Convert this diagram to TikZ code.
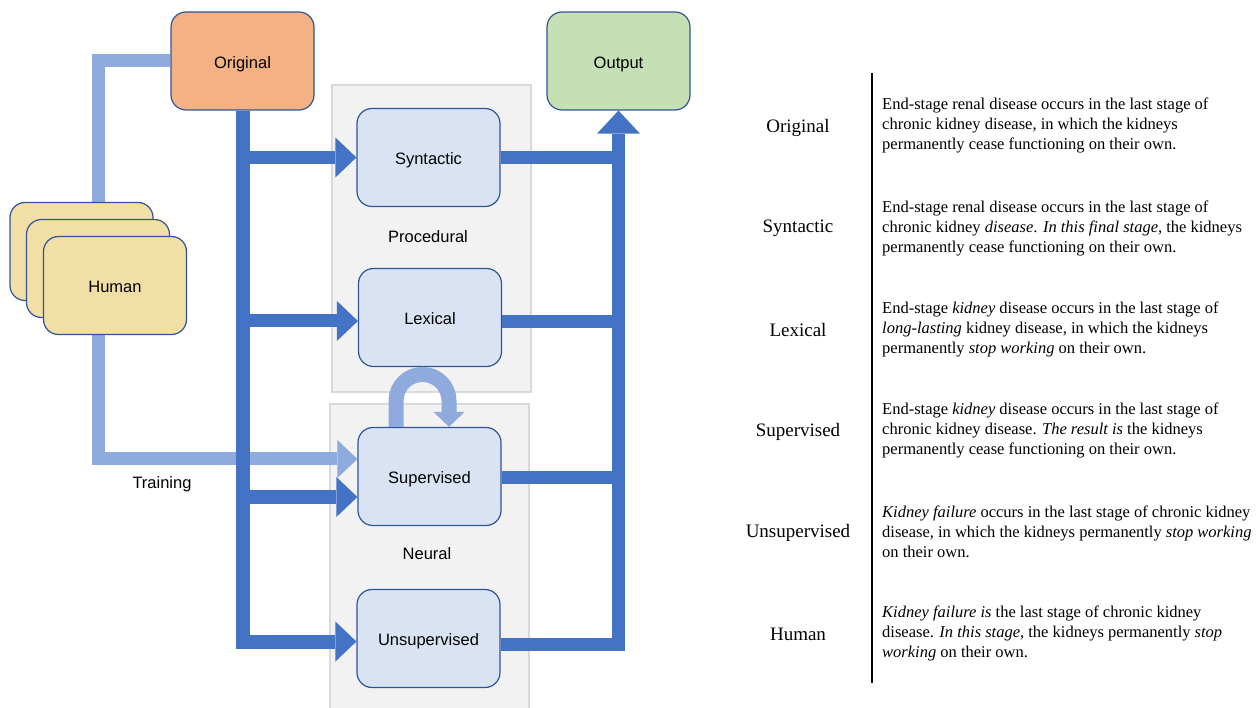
\documentclass[tikz,border=0pt]{standalone}
\usepackage{fontspec}
\setmainfont{Liberation Serif}
\setsansfont{Liberation Sans}
\usetikzlibrary{arrows.meta,calc}
\definecolor{darkb}{HTML}{4472C4}
\definecolor{lightb}{HTML}{8FAADC}
\definecolor{edgeb}{HTML}{2F5597}
\definecolor{origf}{HTML}{F4B183}
\definecolor{outg}{HTML}{C5E0B4}
\definecolor{boxb}{HTML}{DAE3F3}
\definecolor{humy}{HTML}{F2DFA6}
\definecolor{grpf}{HTML}{F2F2F2}
\definecolor{grpd}{HTML}{D9D9D9}
\tikzset{
  box/.style={draw=edgeb, line width=1.2pt, rounded corners=15pt, minimum width=143pt, minimum height=98pt, inner sep=0pt, text height=14.8pt, text depth=0pt, font=\sffamily\fontsize{16.5}{20}\selectfont},
  grp/.style={draw=grpd, fill=grpf, line width=1.5pt, inner sep=0pt},
  stxt/.style={font=\sffamily\fontsize{16.5}{20}\selectfont, inner sep=0pt, text height=14.8pt, text depth=0pt},
  darkline/.style={draw=darkb, line width=13pt},
  lightline/.style={draw=lightb, line width=13pt},
  darrow/.style={-{Triangle[length=21pt,width=40pt,line width=0pt]}},
  larrow/.style={-{Triangle[length=20pt,width=38pt,line width=0pt]}},
  oarrow/.style={-{Triangle[length=23pt,width=43pt,line width=0pt]}},
  uarrow/.style={-{Triangle[length=15pt,width=31pt,line width=0pt]}},
  para/.style={anchor=west, align=left, inner sep=0pt, font=\fontsize{16.5}{20}\selectfont},
  lab/.style={inner sep=0pt, font=\fontsize{19}{22}\selectfont}
}
\begin{document}
\begin{tikzpicture}[x=1pt,y=-1pt]
\useasboundingbox (0,0) rectangle (1259,708);
% groups
\node[grp, minimum width=199pt, minimum height=307pt] (proc) at (431.5,238.5) {};
\node[grp, minimum width=199pt, minimum height=310pt] (neur) at (429.5,559) {};
\node[stxt] (proclab) at (428,235) {Procedural};
\node[stxt] (neurlab) at (427,552) {Neural};
% boxes
\node[box, fill=origf] (orig) at (242.5,61) {Original};
\node[box, fill=outg] (out) at (618.5,61) {Output};
\node[box, fill=boxb] (syn) at (428.5,157.5) {Syntactic};
\node[box, fill=boxb] (lex) at (430,317.5) {Lexical};
\node[box, fill=boxb] (sup) at (429.5,476.5) {Supervised};
\node[box, fill=boxb] (uns) at (428.5,638.5) {Unsupervised};
% light training path
\draw[lightline, larrow] (orig.west) -| (98,459) -- ($(sup.west)+(0,-17.5)$);
\node[stxt] (train) at (162,481) {Training};
% human stack
\node[box, fill=humy] (hum1) at (81.5,251.5) {};
\node[box, fill=humy] (hum2) at (98,268.5) {};
\node[box, fill=humy] (hum3) at (115,285.5) {Human};
% dark trunk and branches
\draw[darkline, line width=14pt, darrow] (orig.south) |- ($(uns.west)+(0,3)$);
\draw[darkline, darrow] (orig.south |- syn.west) -- (syn.west);
\draw[darkline, darrow] ($(orig.south |- lex.west)+(0,3.5)$) -- ($(lex.west)+(0,3.5)$);
\draw[darkline, darrow] ($(orig.south |- sup.west)+(0,20.5)$) -- ($(sup.west)+(0,20.5)$);
% collector
\draw[darkline] (syn.east) -- (out.south |- syn.east);
\draw[darkline] ($(lex.east)+(0,4)$) -- ($(out.south |- lex.east)+(0,4)$);
\draw[darkline] ($(sup.east)+(0,1.5)$) -- ($(out.south |- sup.east)+(0,1.5)$);
\draw[darkline, oarrow] ($(uns.east)+(0,5.5)$) -| (out.south);
% U-turn
\draw[lightline, line width=15pt, uarrow] ($(sup.north)+(-33.5,0)$) -- ++(0,-26) arc[start angle=180, end angle=360, radius=26.5] -- ($(sup.north)+(19.5,0)$);
% table
\coordinate (vt) at (872,73);
\coordinate (vb) at (872,683);
\draw[line width=1.2pt] (vt) -- (vb);
\node[lab] (l1) at (798,127.5) {Original};
\node[lab] (l2) at (798,228.5) {Syntactic};
\node[lab] (l3) at (798,330) {Lexical};
\node[lab] (l4) at (798,431.5) {Supervised};
\node[lab] (l5) at (798,533) {Unsupervised};
\node[lab] (l6) at (798,634) {Human};
\node[para] (p1) at (882,125.5) {End-stage renal disease occurs in the last stage of\\chronic kidney disease, in which the kidneys\\permanently cease functioning on their own.};
\node[para] (p2) at (882,228.5) {End-stage renal disease occurs in the last stage of\\chronic kidney \textit{disease}. \textit{In this final stage,} the kidneys\\permanently cease functioning on their own.};
\node[para] (p3) at (882,329.5) {End-stage \textit{kidney} disease occurs in the last stage of\\\textit{long-lasting} kidney disease, in which the kidneys\\permanently \textit{stop working} on their own.};
\node[para] (p4) at (882,430.5) {End-stage \textit{kidney} disease occurs in the last stage of\\chronic kidney disease. \textit{The result is} the kidneys\\permanently cease functioning on their own.};
\node[para] (p5) at (882,531.5) {\textit{Kidney failure} occurs in the last stage of chronic kidney\\disease, in which the kidneys permanently \textit{stop working}\\on their own.};
\node[para] (p6) at (882,633.5) {\textit{Kidney failure is} the last stage of chronic kidney\\disease. \textit{In this stage,} the kidneys permanently \textit{stop}\\\textit{working} on their own.};
\end{tikzpicture}
\end{document}
